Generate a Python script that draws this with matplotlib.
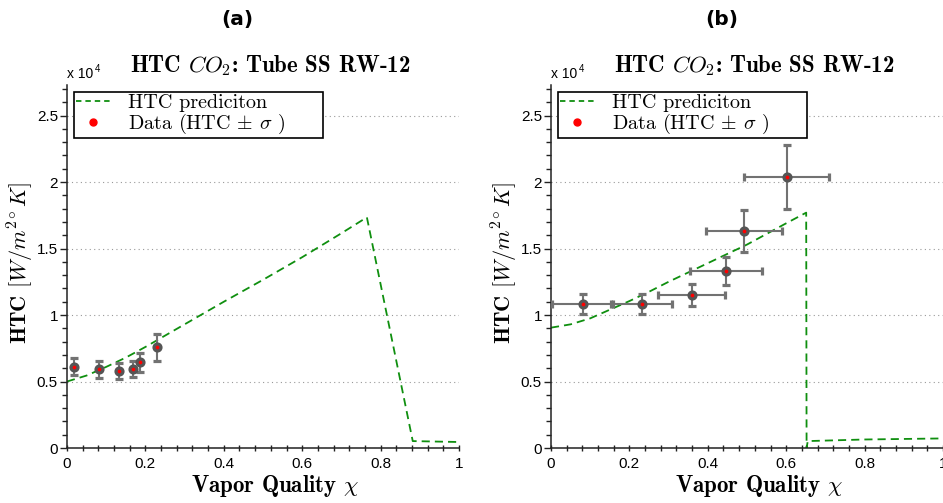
import numpy as np
import matplotlib
matplotlib.use('Agg')
import matplotlib.pyplot as plt
from matplotlib.lines import Line2D
from matplotlib.ticker import MultipleLocator

plt.rcParams['mathtext.fontset'] = 'cm'
plt.rcParams['font.family'] = ['Liberation Sans', 'DejaVu Sans']
plt.rcParams['axes.unicode_minus'] = False

# ---- data (units of 1e4 W/m^2K) ----
# panel (a)
pred_a_x = [0.0, 0.05, 0.10, 0.15, 0.20, 0.25, 0.30, 0.40, 0.50, 0.60, 0.70, 0.765, 0.882, 1.0]
pred_a_y = [0.50, 0.545, 0.61, 0.68, 0.76, 0.845, 0.93, 1.10, 1.265, 1.435, 1.615, 1.735, 0.052, 0.045]
data_a_x = [0.019, 0.082, 0.133, 0.168, 0.186, 0.230]
data_a_y = [0.611, 0.592, 0.581, 0.595, 0.646, 0.758]
data_a_yerr = [0.065, 0.062, 0.060, 0.063, 0.072, 0.100]

# panel (b)
pred_b_x = [0.0, 0.05, 0.10, 0.15, 0.20, 0.25, 0.30, 0.35, 0.40, 0.45, 0.50, 0.55, 0.60, 0.651, 0.652, 0.655, 0.80, 1.0]
pred_b_y = [0.905, 0.93, 0.975, 1.04, 1.105, 1.175, 1.25, 1.32, 1.39, 1.46, 1.53, 1.61, 1.69, 1.77, 0.0, 0.052, 0.064, 0.072]
data_b_x = [0.081, 0.231, 0.359, 0.446, 0.493, 0.601]
data_b_y = [1.083, 1.083, 1.150, 1.333, 1.634, 2.040]
data_b_xerr = [0.078, 0.077, 0.086, 0.092, 0.097, 0.108]
data_b_yerr = [0.072, 0.072, 0.082, 0.106, 0.158, 0.240]

x_ticks = [0, 0.2, 0.4, 0.6, 0.8, 1]
x_ticklabels = ['0', '0.2', '0.4', '0.6', '0.8', '1']
y_ticks = [0, 0.5, 1, 1.5, 2, 2.5]
y_ticklabels = ['0', '0.5', '1', '1.5', '2', '2.5']

GREEN = '#0f8f0f'
W, H = 943, 503


def draw_panel(ax, px, py, dx, dy, dxerr, dyerr):
    ax.plot(px, py, '--', color=GREEN, lw=1.3, dashes=(4.5, 2.8), zorder=2)
    ax.errorbar(dx, dy, xerr=dxerr, yerr=dyerr, fmt='o', ms=5, mfc='red',
                mec='#555555', mew=2.3, ecolor='#727272', elinewidth=1.5,
                capsize=3.2, capthick=1.5, zorder=3)

    ax.set_xlim(0, 1)
    ax.set_ylim(0, 2.73)
    ax.set_xticks(x_ticks)
    ax.set_xticklabels(x_ticklabels)
    ax.set_yticks(y_ticks)
    ax.set_yticklabels(y_ticklabels)
    ax.xaxis.set_minor_locator(MultipleLocator(0.04))
    ax.yaxis.set_minor_locator(MultipleLocator(0.1))
    ax.tick_params(axis='x', which='both', direction='inout', length=4.5,
                   width=1, colors='#222222', labelsize=11, pad=4)
    ax.tick_params(axis='y', which='major', direction='out', length=5,
                   width=1, colors='#222222', labelsize=11, pad=1.5)
    ax.tick_params(axis='y', which='minor', direction='out', length=3.5,
                   width=1, colors='#222222')
    for lab in ax.get_xticklabels() + ax.get_yticklabels():
        lab.set_color('black')

    for s in ['top', 'right']:
        ax.spines[s].set_visible(False)
    for s in ['left', 'bottom']:
        ax.spines[s].set_color('#222222')
        ax.spines[s].set_linewidth(1.1)

    ax.yaxis.grid(True, which='major', linestyle=(0, (1, 3)), color='#999999', lw=0.8)
    ax.set_axisbelow(True)

    ax.set_title('HTC $CO_2$: Tube SS RW-12', family='cmb10', fontsize=16.5,
                 pad=9, x=0.518)
    ax.set_xlabel('Vapor Quality $\\chi$', family='cmb10', fontsize=16.5)
    ax.xaxis.set_label_coords(0.53, -0.07)
    ax.set_ylabel('HTC $[W/m^{2\\circ}K]$', family='cmb10', fontsize=16)
    ax.yaxis.set_label_coords(-0.078, 0.51)

    ax.text(0.0, 1.018, 'x 10', transform=ax.transAxes, fontsize=10,
            ha='left', va='baseline')
    ax.text(0.072, 1.036, '4', transform=ax.transAxes, fontsize=7,
            ha='left', va='baseline')

    handles = [Line2D([], [], ls='--', color=GREEN, lw=1.3, dashes=(3, 2.2)),
               Line2D([], [], ls='none', marker='o', ms=5, mfc='red', mec='red')]
    labels = ['HTC prediciton', 'Data (HTC $\\pm$ $\\sigma$ )']
    leg = ax.legend(handles, labels, loc='upper left',
                    bbox_to_anchor=(0.0, 0.0, 0.67, 1.0), mode='expand',
                    prop={'family': 'cmr10', 'size': 14.5}, frameon=True,
                    fancybox=False, framealpha=1, edgecolor='black',
                    borderpad=0.1, borderaxespad=0.35, labelspacing=0.0,
                    handlelength=1.7, handletextpad=0.9)
    leg.get_frame().set_linewidth(1.2)


fig = plt.figure(figsize=(W / 100, H / 100), dpi=100)
ax1 = fig.add_axes([67 / W, 1 - 448 / H, 392 / W, 363 / H])
ax2 = fig.add_axes([551 / W, 1 - 448 / H, 392 / W, 363 / H])

draw_panel(ax1, pred_a_x, pred_a_y, data_a_x, data_a_y, None, data_a_yerr)
draw_panel(ax2, pred_b_x, pred_b_y, data_b_x, data_b_y, data_b_xerr, data_b_yerr)

fig.text(237 / W, 1 - 20 / H, '(a)', ha='center', va='center',
         fontsize=14.5, fontweight='bold', family='DejaVu Sans')
fig.text(722 / W, 1 - 20 / H, '(b)', ha='center', va='center',
         fontsize=14.5, fontweight='bold', family='DejaVu Sans')

fig.savefig('out.png', dpi=100, facecolor='white')
